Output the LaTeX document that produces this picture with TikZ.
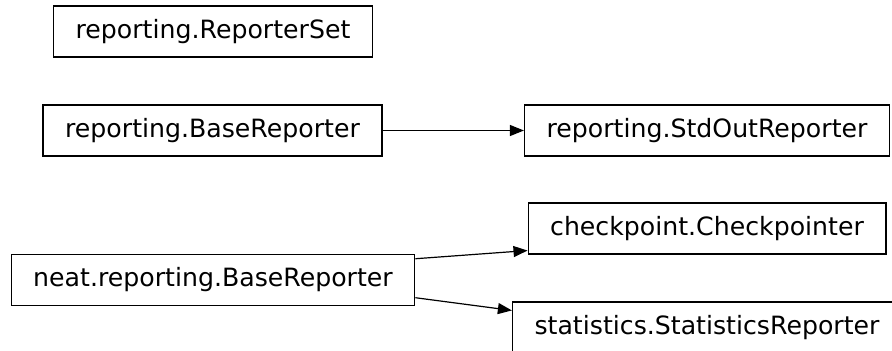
\documentclass[tikz,border=0pt]{standalone}
\usepackage{fontspec}
\setmainfont{DejaVu Sans}
\usepackage{tikz}
\usetikzlibrary{arrows.meta}

\begin{document}
\begin{tikzpicture}[x=0.5pt,y=0.5pt]

\tikzset{
classbox/.style={
draw=black,
line width=0.65pt,
inner xsep=11pt,
inner ysep=0pt,
minimum height=25.5pt,
font=\fontsize{12.6}{15}\selectfont
},
inherit/.style={
-{Triangle[length=7pt,width=5.5pt]},
line width=0.6pt
}
}

\path[use as bounding box,clip] (0,0) rectangle (892,350);

%--------------------------------------------------
% LEFT COLUMN
%--------------------------------------------------

\node[classbox] (repset) at (213,318.5)
{reporting.ReporterSet};

\node[classbox] (base) at (212.5,219.5)
{reporting.BaseReporter};

\node[classbox] (neatbase) at (213,70)
{neat.reporting.BaseReporter};

%--------------------------------------------------
% RIGHT COLUMN
%--------------------------------------------------

\node[classbox] (stdout) at (707,219.5)
{reporting.StdOutReporter};

\node[classbox] (checkp) at (707,121.5)
{checkpoint.Checkpointer};

\node[classbox] (statrep) at (707,22.5)
{statistics.StatisticsReporter};

%--------------------------------------------------
% EDGES
%--------------------------------------------------

\draw[inherit] (base) -- (stdout);
\draw[inherit] (neatbase.6) -- (checkp.187);
\draw[inherit] (neatbase.-5) -- (statrep.175);

\end{tikzpicture}
\end{document}
